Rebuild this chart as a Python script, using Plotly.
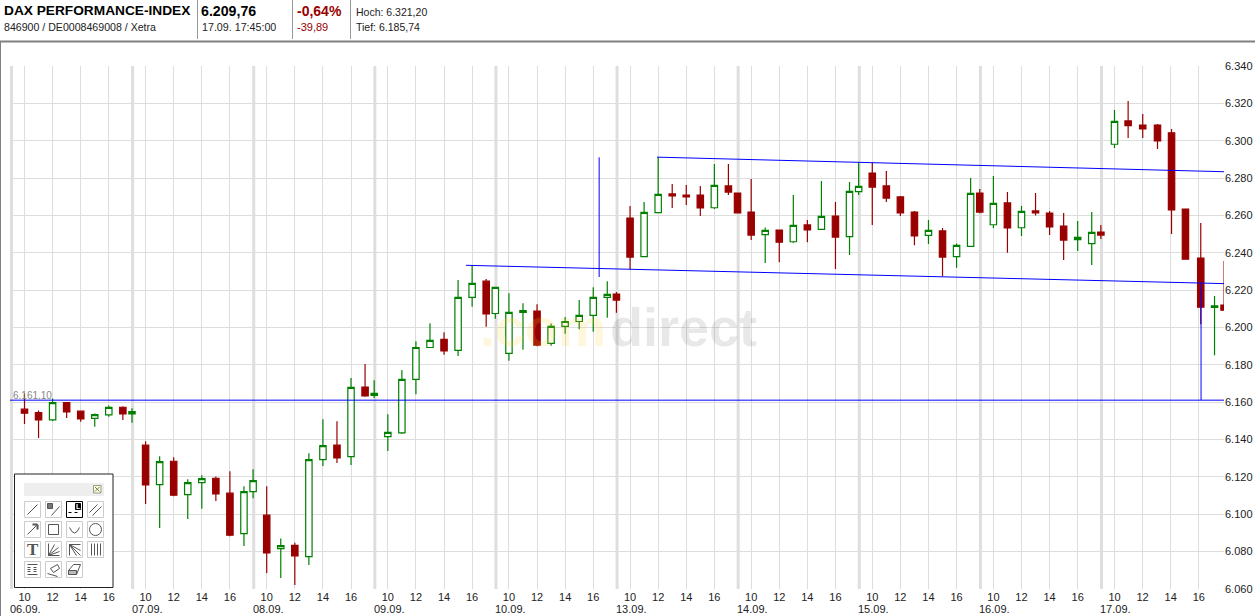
import plotly.graph_objects as go

W, H = 1255, 616

# ---------- data ----------
days = ["06.09.", "07.09.", "08.09.", "09.09.", "10.09.", "13.09.", "14.09.", "15.09.", "16.09.", "17.09."]
slots = [0, 1, 2, 3, 4, 5, 6, 7, 7.65]
last_day_slots = [0, 0.97, 2.01, 3.06, 4.06, 5.05, 6.14, 7.12, 7.8]
hour_ticks = [0, 2, 4, 6]
hour_labels = ["10", "12", "14", "16"]
price_ticks = [6060, 6080, 6100, 6120, 6140, 6160, 6180, 6200, 6220, 6240, 6260, 6280, 6300, 6320, 6340]
price_labels = ["6.060", "6.080", "6.100", "6.120", "6.140", "6.160", "6.180", "6.200", "6.220", "6.240",
                "6.260", "6.280", "6.300", "6.320", "6.340"]

opens = [
    6156.3, 6154.5, 6150.5, 6159.8, 6155.2, 6151.3, 6153.2, 6157.3, 6153.8,
    6137.0, 6115.9, 6128.4, 6110.5, 6117.0, 6119.3, 6111.3, 6089.6, 6112.1,
    6099.5, 6081.6, 6083.4, 6077.3, 6129.3, 6137.0, 6130.9, 6168.1, 6163.6,
    6141.6, 6143.6, 6172.2, 6189.3, 6193.6, 6187.7, 6216.1, 6224.8, 6207.5,
    6186.1, 6208.1, 6208.8, 6191.5, 6200.6, 6203.2, 6206.5, 6216.1, 6217.9,
    6258.6, 6237.9, 6261.5, 6271.5, 6270.9, 6270.9, 6264.1, 6275.8, 6272.0,
    6261.8, 6249.7, 6252.2, 6245.9, 6254.9, 6252.5, 6259.7, 6248.6, 6272.7,
    6282.7, 6275.8, 6269.9, 6261.8, 6249.3, 6251.7, 6237.9, 6243.4, 6272.0,
    6255.0, 6266.7, 6253.4, 6262.4, 6261.3, 6254.3, 6247.0, 6244.9, 6251.1,
    6298.1, 6310.6, 6308.4, 6308.4, 6304.2, 6263.4, 6237.2, 6210.8, 6212.0,
]
closes = [
    6154.1, 6150.5, 6159.8, 6154.8, 6151.1, 6153.4, 6157.2, 6153.8, 6155.0,
    6115.7, 6128.2, 6110.2, 6117.0, 6119.1, 6110.9, 6088.8, 6112.1, 6118.0,
    6079.3, 6083.2, 6077.7, 6129.3, 6136.8, 6130.2, 6167.9, 6163.4, 6164.7,
    6143.9, 6172.2, 6189.3, 6193.1, 6187.5, 6216.1, 6223.6, 6207.3, 6221.5,
    6208.1, 6209.1, 6190.6, 6200.6, 6203.2, 6206.5, 6216.1, 6217.7, 6214.7,
    6237.7, 6261.6, 6271.3, 6270.4, 6269.9, 6264.0, 6276.1, 6272.5, 6261.3,
    6249.5, 6252.0, 6245.7, 6254.7, 6252.2, 6259.5, 6248.4, 6272.9, 6275.6,
    6275.2, 6269.3, 6261.3, 6249.0, 6252.0, 6237.7, 6244.0, 6271.8, 6261.8,
    6266.5, 6253.3, 6262.2, 6261.3, 6253.8, 6246.8, 6248.2, 6250.9, 6249.5,
    6310.4, 6308.1, 6306.3, 6299.9, 6262.9, 6236.6, 6210.9, 6211.6, 6209.3,
]
highs = [
    6164.7, 6155.5, 6162.0, 6160.0, 6155.5, 6154.0, 6158.2, 6157.9, 6156.8,
    6139.1, 6131.1, 6130.5, 6118.8, 6120.9, 6120.2, 6123.0, 6115.0, 6124.1,
    6115.0, 6087.0, 6084.8, 6132.7, 6150.9, 6149.8, 6172.9, 6180.4, 6171.8,
    6153.6, 6177.2, 6192.7, 6202.3, 6197.5, 6225.4, 6233.2, 6225.9, 6221.5,
    6218.4, 6213.0, 6212.5, 6202.2, 6205.6, 6214.7, 6221.5, 6224.8, 6219.0,
    6265.0, 6267.2, 6291.1, 6276.8, 6276.3, 6275.8, 6287.5, 6287.5, 6272.0,
    6279.5, 6253.6, 6252.2, 6270.9, 6257.5, 6278.4, 6267.2, 6277.9, 6288.3,
    6288.3, 6283.8, 6270.4, 6262.4, 6257.5, 6253.3, 6245.0, 6280.0, 6274.2,
    6281.1, 6272.5, 6265.0, 6272.0, 6262.4, 6261.3, 6257.0, 6261.8, 6254.9,
    6316.5, 6321.3, 6314.3, 6309.0, 6306.3, 6263.4, 6255.9, 6216.8, 6235.6,
]
lows = [
    6148.4, 6140.9, 6150.0, 6151.6, 6149.5, 6146.8, 6152.2, 6150.5, 6149.0,
    6105.5, 6092.7, 6109.6, 6097.5, 6102.9, 6107.1, 6088.2, 6083.0, 6108.6,
    6068.6, 6065.9, 6062.1, 6072.9, 6125.9, 6127.5, 6126.4, 6162.9, 6162.3,
    6133.9, 6143.0, 6164.3, 6189.3, 6185.4, 6184.8, 6211.1, 6200.4, 6204.7,
    6182.2, 6188.1, 6190.0, 6190.2, 6196.6, 6199.1, 6197.7, 6205.2, 6207.9,
    6231.1, 6237.9, 6261.5, 6264.0, 6265.6, 6259.7, 6263.4, 6270.9, 6261.3,
    6246.8, 6234.5, 6235.0, 6245.2, 6245.7, 6252.5, 6231.3, 6238.8, 6270.9,
    6254.9, 6267.2, 6259.7, 6244.1, 6244.7, 6227.5, 6232.0, 6243.4, 6261.1,
    6253.3, 6240.0, 6249.0, 6259.9, 6249.5, 6236.1, 6241.0, 6233.4, 6247.4,
    6296.1, 6301.5, 6301.5, 6295.6, 6250.0, 6236.6, 6201.8, 6185.2, 6209.3,
]

# hand-drawn lines: (day index, slot, price)
support_level = 6161.10
lower_channel = [(3, 5.56, 6233.3), (9, 7.8, 6223.5)]
upper_channel = [(5, 1.92, 6291.2), (9, 7.8, 6283.4)]
spike_line = [(4, 6.42, 6291.1), (4, 6.42, 6227.0)]
drop_line = [(9, 6.16, 6223.7), (9, 6.16, 6161.1)]

# ---------- layout constants ----------
DAY = 8.62
PX = 14.05
X0 = 24.5
AX_L, AX_R, AX_T, AX_B = 10, 1224, 66, 589
RED = "#990000"
GREEN = "#008000"
BLUE = "#0000ff"
GRID = "#dddddd"


def t(day, slot):
    return day * DAY + slot


def fx(x):
    return x / W


def fy(y):
    return 1 - y / H


xs = []
for d in range(len(days)):
    for s in (last_day_slots if d == len(days) - 1 else slots):
        xs.append(t(d, s))

xrange_ = [(AX_L - X0) / PX, (AX_R - X0) / PX]
tickvals = [t(d, h) for d in range(len(days)) for h in hour_ticks]
ticktext = hour_labels * len(days)

fig = go.Figure()
fig.add_trace(go.Candlestick(
    x=xs, open=opens, high=highs, low=lows, close=closes,
    whiskerwidth=0,
    increasing=dict(line=dict(color=GREEN, width=1.2), fillcolor="#ffffff"),
    decreasing=dict(line=dict(color=RED, width=1.2), fillcolor=RED),
    showlegend=False,
))

for seg_ in (lower_channel, upper_channel, spike_line, drop_line):
    fig.add_trace(go.Scatter(
        x=[t(p[0], p[1]) for p in seg_], y=[p[2] for p in seg_], mode="lines",
        line=dict(color=BLUE, width=1), showlegend=False, hoverinfo="skip",
    ))
fig.add_trace(go.Scatter(
    x=xrange_, y=[support_level, support_level], mode="lines",
    line=dict(color=BLUE, width=1), showlegend=False, hoverinfo="skip",
))

shapes = []


def rect(x0, y0, x1, y1, fill="rgba(0,0,0,0)", line="rgba(0,0,0,0)", w=1, layer="above"):
    shapes.append(dict(type="rect", xref="paper", yref="paper",
                       x0=fx(x0), x1=fx(x1), y0=fy(y0), y1=fy(y1),
                       fillcolor=fill, line=dict(color=line, width=w), layer=layer))


def seg(x0, y0, x1, y1, color="#555555", w=1, dash="solid", layer="above"):
    shapes.append(dict(type="line", xref="paper", yref="paper",
                       x0=fx(x0), x1=fx(x1), y0=fy(y0), y1=fy(y1),
                       line=dict(color=color, width=w, dash=dash), layer=layer))


# day separators
for d in range(len(days)):
    sx = t(d, -0.925)
    shapes.append(dict(type="line", xref="x", yref="paper", x0=sx, x1=sx,
                       y0=fy(AX_B), y1=fy(AX_T),
                       line=dict(color="#dedede", width=3), layer="below"))

# page frame and header dividers
seg(0, 41.5, W, 41.5, "#808080", 2)
seg(0.5, 41, 0.5, H, "#808080", 1)
for hx in (197.5, 292.5, 350.5):
    seg(hx, 0, hx, 39, "#999999", 1)

# tool palette
rect(14.5, 474, 113, 587.5, fill="#ffffff", line="#222222", w=1)
rect(24, 483, 104, 496, fill="#eeeeee")
rect(93.5, 485.5, 101, 493, fill="#ffffcc", line="#999999")
seg(95, 487, 99.5, 491.5, "#777777")
seg(95, 491.5, 99.5, 487, "#777777")

cols = [24.5, 45.5, 66.5, 87.5]
rows = [501.5, 521.5, 541.5, 561.5]
for r, ry in enumerate(rows):
    for c, cx in enumerate(cols):
        if r == 3 and c == 3:
            continue
        sel = (r == 0 and c == 2)
        rect(cx, ry, cx + 16, ry + 16, fill="#ffffff", line="#000000" if sel else "#cccccc", w=1)


def icon(c, r, x0, y0, x1, y1, color="#555555", w=1, dash="solid"):
    seg(cols[c] + x0, rows[r] + y0, cols[c] + x1, rows[r] + y1, color, w, dash)


def box(c, r, x0, y0, x1, y1, fill="rgba(0,0,0,0)", line="#555555"):
    rect(cols[c] + x0, rows[r] + y0, cols[c] + x1, rows[r] + y1, fill=fill, line=line)


icon(0, 0, 3, 13, 13, 3)
box(1, 0, 2, 2, 7, 7, fill="#777777")
icon(1, 0, 6, 14, 14, 5)
box(2, 0, 9, 2, 14, 8, fill="#000000", line="#000000")
icon(2, 0, 2, 11, 14, 11, "#000000", 1, "dot")
icon(3, 0, 2, 11, 10, 3)
icon(3, 0, 5, 14, 14, 5)
icon(0, 1, 3, 13, 12, 4)
icon(0, 1, 8, 3, 13, 3, "#555555", 2)
icon(0, 1, 13, 3, 13, 8, "#555555", 2)
box(1, 1, 3, 3, 13, 13)
shapes.append(dict(type="path", xref="paper", yref="paper", layer="above",
                   path="M %f,%f Q %f,%f %f,%f" % (fx(cols[2] + 3), fy(rows[1] + 6), fx(cols[2] + 8),
                                                    fy(rows[1] + 17), fx(cols[2] + 13), fy(rows[1] + 6)),
                   line=dict(color="#555555", width=1)))
shapes.append(dict(type="circle", xref="paper", yref="paper", layer="above",
                   x0=fx(cols[3] + 2), x1=fx(cols[3] + 14), y0=fy(rows[1] + 14), y1=fy(rows[1] + 2),
                   line=dict(color="#555555", width=1)))
for ex, ey in ((14, 14), (14, 10), (13, 6), (9, 3), (3, 2)):
    icon(1, 2, 3, 14, ex, ey)
for ex, ey in ((14, 14), (14, 9), (10, 14), (14, 3), (3, 14)):
    icon(2, 2, 3, 3, ex, ey)
for vx in (4, 7, 10, 13):
    icon(3, 2, vx, 2, vx, 14)
icon(0, 3, 3, 3, 13, 3)
icon(0, 3, 3, 13, 13, 13)
for hy in (6, 8, 10):
    icon(0, 3, 3, hy, 13, hy, "#555555", 1, "dot")
icon(1, 3, 2, 12, 12, 15)
icon(1, 3, 5, 7, 12, 3)
icon(1, 3, 5, 7, 8, 11)
icon(1, 3, 8, 11, 14, 7)
icon(1, 3, 12, 3, 14, 7)
icon(2, 3, 2, 9, 7, 3)
icon(2, 3, 7, 3, 14, 3)
icon(2, 3, 14, 3, 10, 13)
box(2, 3, 2, 9, 10, 13, fill="#bbbbbb")

FONT = "Liberation Sans, Arial, sans-serif"
annotations = []


def label(x, y, text, size=11, color="#222222", bold=False, anchor="left"):
    annotations.append(dict(
        xref="paper", yref="paper", x=fx(x), y=fy(y), xanchor=anchor, yanchor="middle",
        text="<b>%s</b>" % text if bold else text, showarrow=False, borderpad=0, borderwidth=0,
        font=dict(family=FONT, size=size, color=color),
    ))


label(4, 10.5, "DAX PERFORMANCE-INDEX", 13.7, "#000000", True)
label(4, 26.5, "846900 / DE0008469008 / Xetra", 10.6)
label(201, 10.5, "6.209,76", 14.2, "#000000", True)
label(202, 26.5, "17.09. 17:45:00", 10.7)
label(297, 10.5, "-0,64%", 14, RED, True)
label(297, 26.5, "-39,89", 11, RED)
label(356, 11.5, "Hoch: 6.321,20", 10.5)
label(356, 26.5, "Tief: 6.185,74", 10.5)
label(13, 395, "6.161,10", 10, "#888888")
label(480, 327, ".com", 54, "rgba(255,205,40,0.16)", True)
label(610, 327, "direct", 54, "rgba(0,0,0,0.09)", True)
label(cols[0] + 8, rows[2] + 8, "<b>T</b>", 17, "#555555", False, "center")
annotations[-1]["font"]["family"] = "Liberation Serif, serif"
label(cols[2] + 11.5, rows[0] + 5, "<b>L</b>", 7, "#ffffff", False, "center")

for d, name in enumerate(days):
    annotations.append(dict(xref="x", yref="paper", x=t(d, 0.1), y=fy(608.5), xanchor="center", yanchor="middle",
                            text=name, showarrow=False, borderpad=0,
                            font=dict(family=FONT, size=11, color="#222222")))

fig.update_layout(
    width=W, height=H, margin=dict(l=0, r=0, t=0, b=0),
    paper_bgcolor="#ffffff", plot_bgcolor="#ffffff",
    boxgap=0.0, showlegend=False,
    font=dict(family=FONT, size=11, color="#222222"),
    shapes=shapes, annotations=annotations,
    xaxis=dict(domain=[fx(AX_L), fx(AX_R)], range=xrange_, tickmode="array", tickvals=tickvals,
               ticktext=ticktext, showgrid=True, gridcolor=GRID, gridwidth=1, zeroline=False, automargin=False,
               showline=False, ticks="", tickangle=0, rangeslider=dict(visible=False), tickfont=dict(size=11)),
    yaxis=dict(domain=[fy(AX_B), fy(AX_T)], range=[6060, 6340], side="right", tickmode="array", automargin=False,
               tickvals=price_ticks, ticktext=price_labels, showgrid=True, gridcolor=GRID, gridwidth=1,
               zeroline=False, showline=False, ticks="", tickfont=dict(size=11)),
)

fig.write_html("out.html", config=dict(displayModeBar=False),
               post_script="document.body.style.margin='0';document.body.style.overflow='hidden';")
